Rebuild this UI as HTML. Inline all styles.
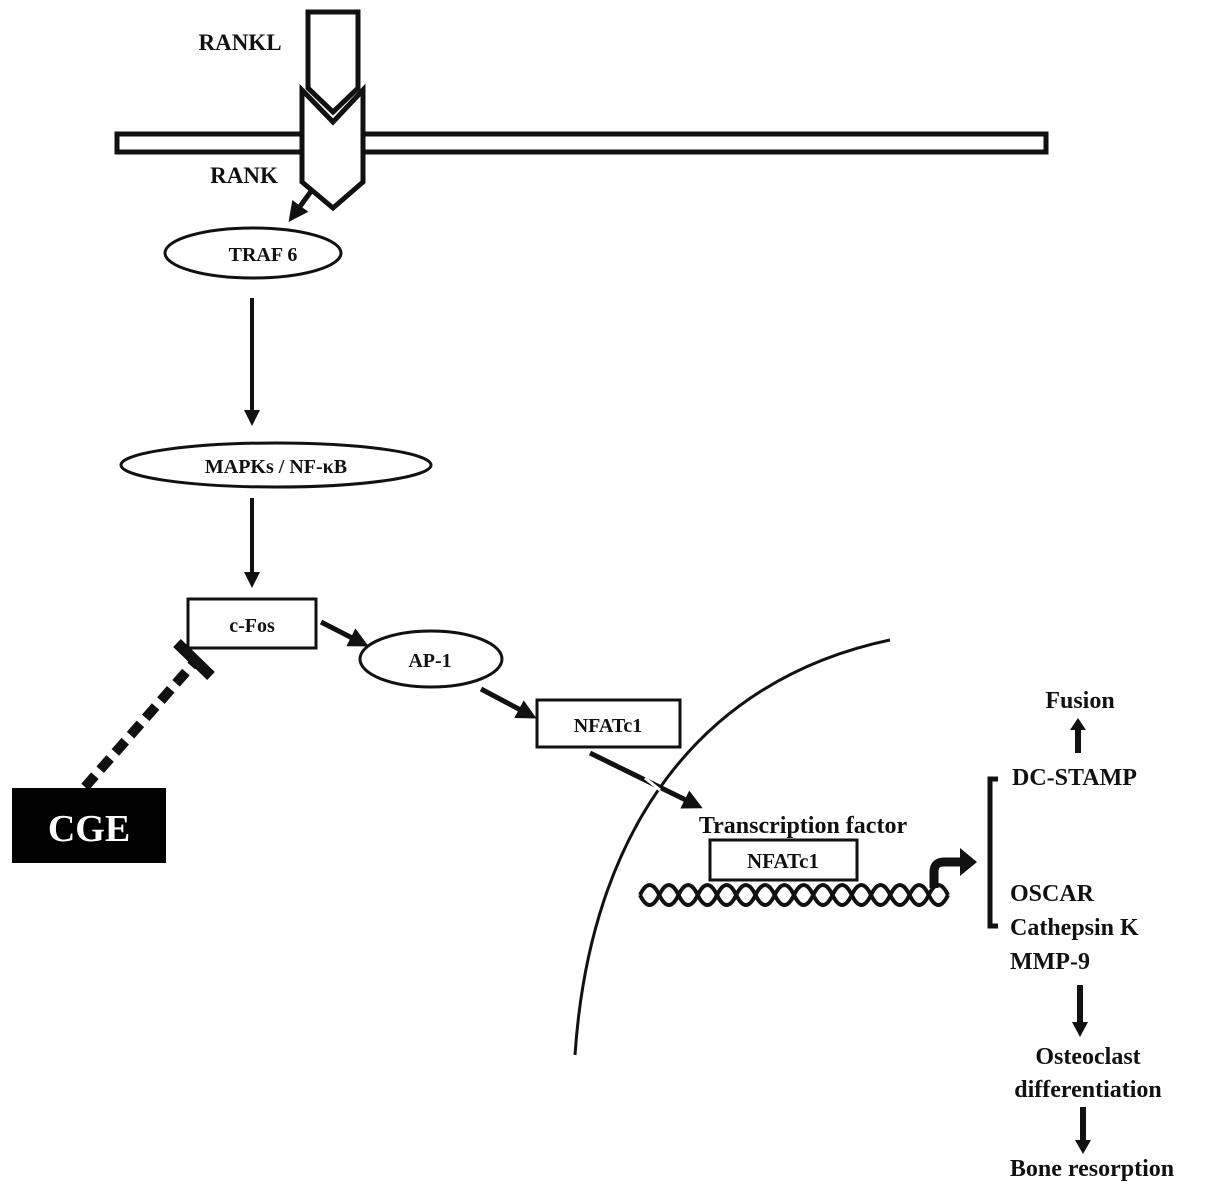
<!DOCTYPE html>
<html><head><meta charset="utf-8"><style>
html,body{margin:0;padding:0;background:#fff;}
svg{display:block;}
text{font-family:"Liberation Serif",serif;font-weight:bold;fill:#111;}
</style></head><body>
<svg width="1205" height="1196" viewBox="0 0 1205 1196" xmlns="http://www.w3.org/2000/svg">
<defs>
<marker id="ah" markerWidth="4" markerHeight="4" refX="2.5" refY="2" orient="auto" markerUnits="strokeWidth">
<path d="M0,0 L4,2 L0,4 z" fill="#111"/></marker>
</defs>
<!-- membrane -->
<rect x="117" y="134" width="929" height="18" fill="#fff" stroke="#111" stroke-width="5"/>
<!-- RANK -->
<path d="M302,90 L333,122 L363,90 L363,182 L333,208 L302,182 Z" fill="#fff" stroke="#111" stroke-width="5" stroke-linejoin="miter"/>
<!-- RANKL -->
<path d="M308,12 L358,12 L358,88 L333,112 L308,88 Z" fill="#fff" stroke="#111" stroke-width="5"/>
<text x="240" y="50" font-size="23" text-anchor="middle">RANKL</text>
<text x="244" y="183" font-size="23" text-anchor="middle">RANK</text>
<!-- arrow RANK -> TRAF6 -->
<line x1="312" y1="190" x2="293" y2="216" stroke="#111" stroke-width="5" marker-end="url(#ah)"/>
<ellipse cx="253" cy="253" rx="88" ry="25" fill="#fff" stroke="#111" stroke-width="3"/>
<text x="263" y="261" font-size="20" text-anchor="middle">TRAF 6</text>
<line x1="252" y1="298" x2="252" y2="420" stroke="#111" stroke-width="4" marker-end="url(#ah)"/>
<ellipse cx="276" cy="465" rx="155" ry="22" fill="#fff" stroke="#111" stroke-width="3"/>
<text x="276" y="473" font-size="20" text-anchor="middle">MAPKs / NF-κB</text>
<line x1="252" y1="498" x2="252" y2="582" stroke="#111" stroke-width="4" marker-end="url(#ah)"/>
<!-- c-Fos -->
<rect x="188" y="599" width="128" height="49" fill="#fff" stroke="#111" stroke-width="3"/>
<text x="252" y="632" font-size="20" text-anchor="middle">c-Fos</text>
<line x1="321" y1="622" x2="362" y2="643" stroke="#111" stroke-width="5" marker-end="url(#ah)"/>
<ellipse cx="431" cy="659" rx="71" ry="28" fill="#fff" stroke="#111" stroke-width="3"/>
<text x="430" y="667" font-size="20" text-anchor="middle">AP-1</text>
<line x1="481" y1="689" x2="530" y2="715" stroke="#111" stroke-width="5" marker-end="url(#ah)"/>
<rect x="537" y="700" width="143" height="47" fill="#fff" stroke="#111" stroke-width="3"/>
<text x="608" y="732" font-size="20" text-anchor="middle">NFATc1</text>
<!-- nucleus -->
<path d="M890,640 C700,680 590,830 575,1055" fill="none" stroke="#111" stroke-width="3"/>
<line x1="590" y1="753" x2="696" y2="805" stroke="#111" stroke-width="5" marker-end="url(#ah)"/>
<line x1="645" y1="778" x2="660" y2="790" stroke="#fff" stroke-width="3"/>
<!-- inhibition -->
<line x1="85" y1="787" x2="193" y2="664" stroke="#111" stroke-width="10" stroke-dasharray="15,8"/>
<line x1="177" y1="643" x2="211" y2="676" stroke="#111" stroke-width="11"/>
<rect x="12" y="788" width="154" height="75" fill="#000"/>
<text x="89" y="841" font-size="38" text-anchor="middle" style="fill:#fff">CGE</text>
<!-- nucleus contents -->
<text x="803" y="833" font-size="24" text-anchor="middle">Transcription  factor</text>
<rect x="710" y="840" width="147" height="40" fill="#fff" stroke="#111" stroke-width="3"/>
<text x="783" y="868" font-size="21" text-anchor="middle">NFATc1</text>
<path d="M640,895 q9.6,-20 19.25,0 t19.25,0 t19.25,0 t19.25,0 t19.25,0 t19.25,0 t19.25,0 t19.25,0 t19.25,0 t19.25,0 t19.25,0 t19.25,0 t19.25,0 t19.25,0 t19.25,0 t19.25,0" fill="none" stroke="#111" stroke-width="4"/>
<path d="M640,895 q9.6,20 19.25,0 t19.25,0 t19.25,0 t19.25,0 t19.25,0 t19.25,0 t19.25,0 t19.25,0 t19.25,0 t19.25,0 t19.25,0 t19.25,0 t19.25,0 t19.25,0 t19.25,0 t19.25,0" fill="none" stroke="#111" stroke-width="4"/>
<!-- bent arrow -->
<path d="M934,888 L934,872 Q934,862 944,862 L962,862" fill="none" stroke="#111" stroke-width="9"/>
<path d="M960,848 L977,862 L960,876 Z" fill="#111"/>
<!-- bracket -->
<path d="M998,779 L990,779 L990,926 L998,926" fill="none" stroke="#111" stroke-width="5"/>
<text x="1012" y="785" font-size="24">DC-STAMP</text>
<line x1="1078" y1="753" x2="1078" y2="728" stroke="#111" stroke-width="6"/>
<path d="M1070,730 L1078,718 L1086,730 Z" fill="#111"/>
<text x="1080" y="708" font-size="24" text-anchor="middle">Fusion</text>
<text x="1010" y="901" font-size="24">OSCAR</text>
<text x="1010" y="935" font-size="24">Cathepsin K</text>
<text x="1010" y="969" font-size="24">MMP-9</text>
<line x1="1080" y1="985" x2="1080" y2="1025" stroke="#111" stroke-width="6"/>
<path d="M1072,1022 L1080,1037 L1088,1022 Z" fill="#111"/>
<text x="1088" y="1064" font-size="24" text-anchor="middle">Osteoclast</text>
<text x="1088" y="1097" font-size="24" text-anchor="middle">differentiation</text>
<line x1="1083" y1="1107" x2="1083" y2="1143" stroke="#111" stroke-width="6"/>
<path d="M1075,1140 L1083,1154 L1091,1140 Z" fill="#111"/>
<text x="1092" y="1176" font-size="24" text-anchor="middle">Bone resorption</text>
</svg>
</body></html>
